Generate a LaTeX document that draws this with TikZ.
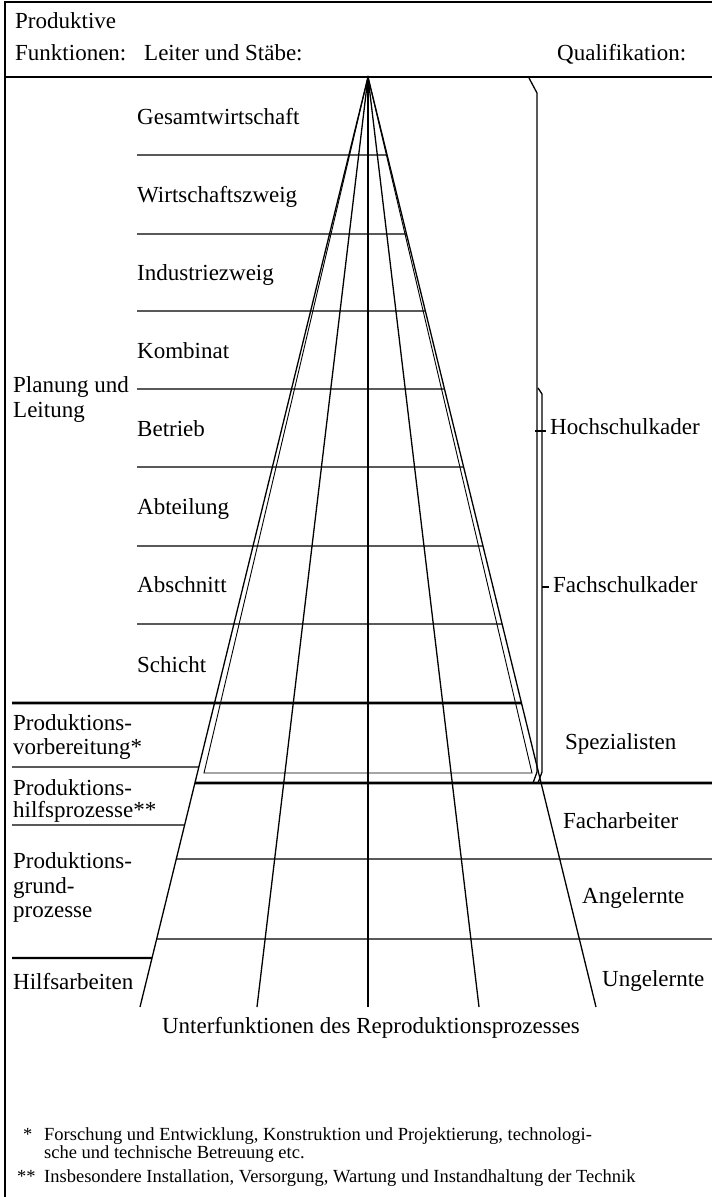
\documentclass[tikz,border=0pt]{standalone}
\usepackage{fontspec}
\setmainfont{Liberation Serif}
\usetikzlibrary{calc}
\begin{document}
\begin{tikzpicture}[x=1pt,y=-1pt,
  ln/.style={line width=1.3pt},
  thn/.style={line width=0.9pt},
  thk/.style={line width=2.6pt},
  lbl/.style={anchor=base west,inner sep=0pt,font=\fontsize{23}{25}\selectfont},
  fnt/.style={anchor=base west,inner sep=0pt,font=\fontsize{18.5}{18}\selectfont}]
\useasboundingbox (0,0) rectangle (712,1197);
% frame
\draw[ln] (5,1197) -- (5,2) -- (712,2);
\draw[line width=1.8pt] (5,77) -- (712,77);
% pyramid coordinates
\coordinate (apex) at (368,77);
\coordinate (bL1) at (140,1007);
\coordinate (bL2) at (257,1007);
\coordinate (bC) at (368,1007);
\coordinate (bR2) at (479,1007);
\coordinate (bR1) at (596,1007);
\coordinate (iL) at (204,773);
\coordinate (iR) at (532,773);
% rays
\foreach \e in {bL1,bL2,bC,bR2,bR1} \draw[ln] (apex) -- (\e);
% inner trapezoid (Leiter und Staebe)
\draw[thn] (apex) -- (iL) -- (iR) -- cycle;
% level lines
\foreach \yy in {155,234,311,389,467,546,624}
  \draw[ln] (137,\yy) -- ($(apex)!{(\yy-77)/930}!(bR1)$);
\draw[thk] (12,703) -- ($(apex)!{(703-77)/930}!(bR1)$);
\draw[ln] (12,767) -- ($(apex)!{(767-77)/930}!(bL1)$);
\draw[thk] ($(apex)!{(783-77)/930}!(bL1)$) -- (712,783);
\draw[ln] (12,825) -- ($(apex)!{(825-77)/930}!(bL1)$);
\draw[ln] ($(apex)!{(859-77)/930}!(bL1)$) -- (712,859);
\draw[ln] ($(apex)!{(939-77)/930}!(bL1)$) -- (712,939);
\draw[line width=2.2pt] (12,958) -- ($(apex)!{(958-77)/930}!(bL1)$);
% braces
\coordinate (hA) at (529,78);
\coordinate (hB) at (538,388);
\draw[ln] (hA) -- (537,93) -- (537,772) -- (533,783);
\draw[ln] (hB) -- (542,394) -- (542,772) -- (538,783);
\draw[ln] (535,431) -- (546,431);
\draw[ln] (542,587) -- (549,587);
% header texts
\node[lbl] (t1) at (15,28) {Produktive};
\node[lbl] (t2) at (15,60) {Funktionen:};
\node[lbl] (t3) at (144,60) {Leiter und Stäbe:};
\node[lbl] (t4) at (557,60) {Qualifikation:};
% levels
\node[lbl] (g1) at (137,124) {Gesamtwirtschaft};
\node[lbl] (g2) at (137,202) {Wirtschaftszweig};
\node[lbl] (g3) at (137,280) {Industriezweig};
\node[lbl] (g4) at (137,358) {Kombinat};
\node[lbl] (g5) at (137,436) {Betrieb};
\node[lbl] (g6) at (137,514) {Abteilung};
\node[lbl] (g7) at (137,592) {Abschnitt};
\node[lbl] (g8) at (137,672) {Schicht};
% left functions
\node[lbl] (f1) at (13,392) {Planung und};
\node[lbl] (f2) at (13,417) {Leitung};
\node[lbl] (f3) at (13,730) {Produktions-};
\node[lbl] (f4) at (13,754) {vorbereitung*};
\node[lbl] (f5) at (13,795) {Produktions-};
\node[lbl] (f6) at (13,817) {hilfsprozesse**};
\node[lbl] (f7) at (13,868) {Produktions-};
\node[lbl] (f8) at (13,893) {grund-};
\node[lbl] (f9) at (13,917) {prozesse};
\node[lbl] (f10) at (13,989) {Hilfsarbeiten};
% qualifications
\node[lbl] (q1) at (550,434) {Hochschulkader};
\node[lbl] (q2) at (553,592) {Fachschulkader};
\node[lbl] (q3) at (565,749) {Spezialisten};
\node[lbl] (q4) at (563,828) {Facharbeiter};
\node[lbl] (q5) at (582,903) {Angelernte};
\node[lbl] (q6) at (602,986) {Ungelernte};
% bottom caption
\node[lbl,anchor=base] (cap) at (371,1033) {Unterfunktionen des Reproduktionsprozesses};
% footnotes
\node[fnt] (s1) at (23,1140) {*};
\node[fnt] (n1) at (44,1140) {Forschung und Entwicklung, Konstruktion und Projektierung, technologi-};
\node[fnt] (n2) at (44,1158) {sche und technische Betreuung etc.};
\node[fnt] (s2) at (17,1182) {**};
\node[fnt] (n3) at (44,1182) {Insbesondere Installation, Versorgung, Wartung und Instandhaltung der Technik};
\end{tikzpicture}
\end{document}
